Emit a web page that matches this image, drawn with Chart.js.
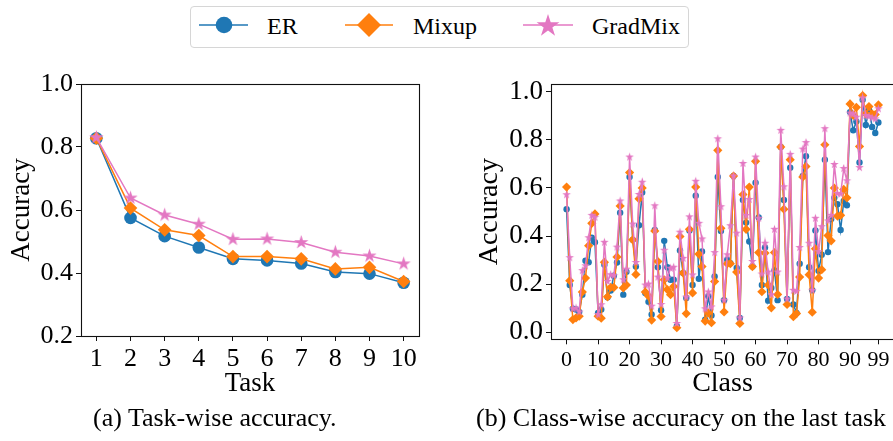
<!DOCTYPE html>
<html>
<head>
<meta charset="utf-8">
<script src="https://cdn.jsdelivr.net/npm/chart.js@4.4.1/dist/chart.umd.min.js"></script>
<style>
  html, body { margin: 0; padding: 0; background: #fff; overflow: hidden; }
  body { width: 893px; height: 441px; position: relative; font-family: "Liberation Serif", "DejaVu Serif", serif; color: #000; }
  canvas { position: absolute; }
  #legend { position: absolute; left: 190px; top: 6px; width: 497px; height: 40px; border: 1px solid #d6d6d6; border-radius: 4px; box-sizing: content-box; }
  .lab { position: absolute; font-size: 24px; line-height: 24px; top: 14px; white-space: nowrap; }
  .cap { position: absolute; font-size: 26px; line-height: 26px; top: 405px; white-space: nowrap; }
</style>
</head>
<body>
<div id="legend"></div>
<svg id="legendMarks" width="893" height="60" style="position:absolute;left:0;top:0"></svg>
<div class="lab" style="left:267px">ER</div>
<div class="lab" style="left:413px">Mixup</div>
<div class="lab" style="left:592px">GradMix</div>

<canvas id="taskChart" width="440" height="344" style="left:0;top:60px"></canvas>
<canvas id="classChart" width="430" height="344" style="left:470px;top:60px"></canvas>

<div class="cap" id="capA">(a) Task-wise accuracy.</div>
<div class="cap" id="capB" style="left:476px">(b) Class-wise accuracy on the last task</div>

<script>
// Task-wise accuracy (left panel)
const tasks = [1, 2, 3, 4, 5, 6, 7, 8, 9, 10];
const taskER      = [0.828, 0.575, 0.517, 0.481, 0.445, 0.440, 0.430, 0.403, 0.398, 0.369];
const taskMixup   = [0.828, 0.606, 0.537, 0.519, 0.452, 0.452, 0.445, 0.413, 0.418, 0.373];
const taskGradMix = [0.830, 0.638, 0.584, 0.555, 0.507, 0.508, 0.497, 0.466, 0.454, 0.429];
const taskYTicks = [0.2, 0.4, 0.6, 0.8, 1.0];

// Class-wise accuracy on the last task (right panel), classes 0..99
const classER = [
  0.512, 0.196, 0.097, 0.094, 0.084, 0.156, 0.297, 0.291, 0.393, 0.374,
  0.080, 0.094, 0.280, 0.145, 0.173, 0.235, 0.290, 0.497, 0.156, 0.251,
  0.646, 0.384, 0.273, 0.445, 0.581, 0.163, 0.126, 0.073, 0.425, 0.270,
  0.091, 0.380, 0.270, 0.218, 0.218, 0.025, 0.340, 0.246, 0.142, 0.423,
  0.196, 0.568, 0.222, 0.336, 0.052, 0.149, 0.069, 0.232, 0.646, 0.421,
  0.133, 0.301, 0.287, 0.650, 0.267, 0.059, 0.550, 0.456, 0.377, 0.273,
  0.622, 0.477, 0.196, 0.352, 0.131, 0.184, 0.257, 0.133, 0.771, 0.550,
  0.138, 0.684, 0.115, 0.080, 0.285, 0.650, 0.732, 0.270, 0.174, 0.423,
  0.255, 0.322, 0.718, 0.333, 0.471, 0.559, 0.532, 0.425, 0.546, 0.528,
  0.916, 0.840, 0.877, 0.706, 0.967, 0.862, 0.927, 0.854, 0.829, 0.873
];
const classMixup = [
  0.604, 0.214, 0.052, 0.059, 0.066, 0.167, 0.225, 0.360, 0.453, 0.492,
  0.066, 0.058, 0.291, 0.147, 0.186, 0.186, 0.313, 0.525, 0.184, 0.196,
  0.664, 0.384, 0.240, 0.555, 0.600, 0.167, 0.150, 0.050, 0.421, 0.294,
  0.065, 0.218, 0.177, 0.156, 0.190, 0.018, 0.398, 0.246, 0.077, 0.428,
  0.163, 0.604, 0.325, 0.273, 0.046, 0.080, 0.039, 0.211, 0.757, 0.432,
  0.084, 0.285, 0.285, 0.650, 0.250, 0.036, 0.573, 0.428, 0.604, 0.273,
  0.711, 0.331, 0.168, 0.329, 0.196, 0.101, 0.331, 0.157, 0.771, 0.512,
  0.115, 0.718, 0.064, 0.077, 0.229, 0.646, 0.690, 0.239, 0.083, 0.347,
  0.225, 0.260, 0.780, 0.402, 0.380, 0.600, 0.483, 0.486, 0.594, 0.559,
  0.950, 0.902, 0.936, 0.773, 0.985, 0.909, 0.939, 0.909, 0.906, 0.946
];
const classGradMix = [
  0.572, 0.310, 0.097, 0.100, 0.084, 0.256, 0.276, 0.393, 0.486, 0.478,
  0.073, 0.114, 0.374, 0.211, 0.239, 0.235, 0.354, 0.546, 0.218, 0.262,
  0.729, 0.450, 0.290, 0.573, 0.624, 0.196, 0.200, 0.108, 0.526, 0.229,
  0.115, 0.341, 0.225, 0.266, 0.270, 0.036, 0.416, 0.307, 0.146, 0.480,
  0.238, 0.628, 0.453, 0.388, 0.097, 0.167, 0.105, 0.331, 0.805, 0.522,
  0.133, 0.322, 0.443, 0.650, 0.412, 0.059, 0.702, 0.486, 0.552, 0.294,
  0.729, 0.474, 0.242, 0.370, 0.250, 0.156, 0.428, 0.250, 0.840, 0.605,
  0.138, 0.740, 0.174, 0.170, 0.352, 0.762, 0.789, 0.370, 0.174, 0.474,
  0.335, 0.439, 0.847, 0.463, 0.486, 0.698, 0.577, 0.575, 0.681, 0.630,
  0.912, 0.909, 0.895, 0.685, 0.975, 0.902, 0.898, 0.892, 0.888, 0.930
];
const classXTicks = [0, 10, 20, 30, 40, 50, 60, 70, 80, 90, 99];
const classYTicks = [0.0, 0.2, 0.4, 0.6, 0.8, 1.0];

const colors = { ER: '#1f77b4', Mixup: '#ff7f0e', GradMix: '#e377c2' };
const FONT = '"Liberation Serif", "DejaVu Serif", serif';

// filled five-point star, like matplotlib's '*' marker
function makeStar(R, color) {
  const s = Math.ceil(R * 2 + 2);
  const c = document.createElement('canvas');
  c.width = s; c.height = s;
  const ctx = c.getContext('2d');
  ctx.translate(s / 2, s / 2);
  ctx.beginPath();
  for (let k = 0; k < 10; k++) {
    const ang = -Math.PI / 2 + k * Math.PI / 5;
    const r = k % 2 ? R * 0.382 : R;
    const px = r * Math.cos(ang), py = r * Math.sin(ang);
    if (k === 0) ctx.moveTo(px, py); else ctx.lineTo(px, py);
  }
  ctx.closePath();
  ctx.fillStyle = color;
  ctx.fill();
  return c;
}

function starPath(cx, cy, R) {
  let d = '';
  for (let k = 0; k < 10; k++) {
    const ang = -Math.PI / 2 + k * Math.PI / 5;
    const r = k % 2 ? R * 0.382 : R;
    d += (k ? 'L' : 'M') + (cx + r * Math.cos(ang)).toFixed(2) + ' ' + (cy + r * Math.sin(ang)).toFixed(2);
  }
  return d + 'Z';
}

// legend marks
(function () {
  const svg = document.getElementById('legendMarks');
  const y = 25;
  svg.innerHTML =
    `<line x1="199" y1="${y}" x2="248" y2="${y}" stroke="${colors.ER}" stroke-width="1.6"/>` +
    `<circle cx="224" cy="${y}" r="8.3" fill="${colors.ER}"/>` +
    `<line x1="345" y1="${y}" x2="393" y2="${y}" stroke="${colors.Mixup}" stroke-width="1.6"/>` +
    `<path d="M369 ${y - 12} L381 ${y} L369 ${y + 12} L357 ${y} Z" fill="${colors.Mixup}"/>` +
    `<line x1="523" y1="${y}" x2="573" y2="${y}" stroke="${colors.GradMix}" stroke-width="1.6"/>` +
    `<path d="${starPath(548, y + 1, 12)}" fill="${colors.GradMix}"/>`;
  const capA = document.getElementById('capA');
  capA.style.left = (215 - capA.offsetWidth / 2) + 'px';
})();

const framePlugin = {
  id: 'frame',
  afterDraw(chart) {
    const { ctx, chartArea: a } = chart;
    ctx.save();
    ctx.strokeStyle = '#111';
    ctx.lineWidth = 1.1;
    ctx.strokeRect(Math.round(a.left) + 0.5, Math.round(a.top) + 0.5,
      Math.round(a.right - a.left), Math.round(a.bottom - a.top));
    ctx.restore();
  }
};

function toPoints(xs, ys) {
  return ys.map((v, i) => ({ x: xs ? xs[i] : i, y: v }));
}

function makeDatasets(xs, er, mix, grad, sz) {
  return [
    {
      label: 'ER', data: toPoints(xs, er), order: 3,
      borderColor: colors.ER, backgroundColor: colors.ER, borderWidth: sz.lw,
      pointStyle: 'circle', pointRadius: sz.circle, pointBorderWidth: 0,
      pointBackgroundColor: colors.ER
    },
    {
      label: 'Mixup', data: toPoints(xs, mix), order: 2,
      borderColor: colors.Mixup, backgroundColor: colors.Mixup, borderWidth: sz.lw,
      pointStyle: 'rectRot', pointRadius: sz.diamond, pointBorderWidth: 0,
      pointBackgroundColor: colors.Mixup
    },
    {
      label: 'GradMix', data: toPoints(xs, grad), order: 1,
      borderColor: colors.GradMix, backgroundColor: colors.GradMix, borderWidth: sz.lw,
      pointStyle: makeStar(sz.star, colors.GradMix), pointRadius: 4, pointBorderWidth: 0,
      pointBackgroundColor: colors.GradMix
    }
  ];
}

function axisOpts(o) {
  return {
    type: 'linear', min: o.min, max: o.max,
    afterBuildTicks: s => { s.ticks = o.ticks.map(v => ({ value: v })); },
    afterFit: s => { if (o.width) s.width = o.width; if (o.height) s.height = o.height; },
    ticks: {
      font: { family: FONT, size: o.tickSize }, color: '#000',
      autoSkip: false, maxRotation: 0, padding: 3,
      callback: o.fmt
    },
    grid: { drawOnChartArea: false, drawTicks: true, tickLength: 5, color: '#111', lineWidth: 1 },
    border: { display: false },
    title: {
      display: true, text: o.title, color: '#000',
      font: { family: FONT, size: o.titleSize }, padding: { top: o.titlePad || 0, bottom: 4 }
    }
  };
}

function renderChart(id, datasets, xOpt, yOpt, padding) {
  return new Chart(document.getElementById(id), {
    type: 'line',
    data: { datasets },
    options: {
      responsive: false, animation: false, devicePixelRatio: 1,
      layout: { padding },
      elements: { line: { tension: 0 } },
      plugins: { legend: { display: false }, tooltip: { enabled: false } },
      scales: { x: axisOpts(xOpt), y: axisOpts(yOpt) }
    },
    plugins: [framePlugin]
  });
}

renderChart('taskChart',
  makeDatasets(tasks, taskER, taskMixup, taskGradMix, { lw: 1.5, circle: 6.3, diamond: 6.8, star: 7.5 }),
  { min: 0.55, max: 10.45, ticks: tasks, fmt: v => String(v), tickSize: 26, title: 'Task', titleSize: 27, height: 68 },
  { min: 0.2, max: 1.0, ticks: taskYTicks, fmt: v => v.toFixed(1), tickSize: 26, title: 'Accuracy', titleSize: 27, width: 81, titlePad: 6 },
  { top: 24, right: 21, left: 0, bottom: 0 });

renderChart('classChart',
  makeDatasets(null, classER, classMixup, classGradMix, { lw: 1.5, circle: 3.2, diamond: 4.6, star: 4.5 }),
  { min: -4.95, max: 103.95, ticks: classXTicks, fmt: v => String(v), tickSize: 22, title: 'Class', titleSize: 28, height: 64.7 },
  { min: -0.03, max: 1.033, ticks: classYTicks, fmt: v => v.toFixed(1), tickSize: 27, title: 'Accuracy', titleSize: 28, width: 81, titlePad: 3 },
  { top: 24, right: 6, left: 0, bottom: 0 });
</script>
</body>
</html>
